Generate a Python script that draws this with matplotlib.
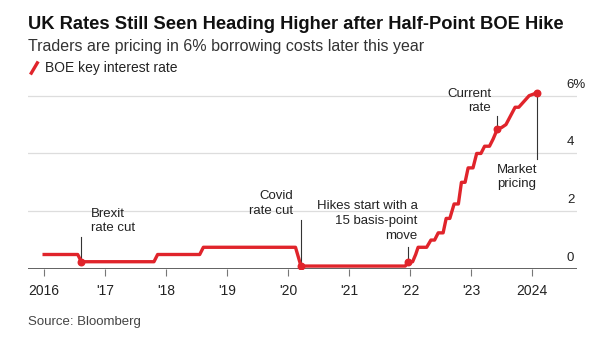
import matplotlib
matplotlib.use("Agg")
from matplotlib import pyplot as plt

plt.rcParams['font.family'] = ['Liberation Sans', 'DejaVu Sans']

# BOE key rate, breakpoints in decimal years (history + market pricing)
years = [2016.0, 2016.55, 2016.61, 2017.80, 2017.86, 2018.55, 2018.61,
         2020.12, 2020.21, 2021.92, 2021.97, 2022.04, 2022.09, 2022.13,
         2022.17, 2022.27, 2022.34, 2022.40, 2022.46, 2022.54, 2022.59,
         2022.65, 2022.72, 2022.79, 2022.84, 2022.90, 2022.95, 2023.03,
         2023.09, 2023.16, 2023.22, 2023.30, 2023.36, 2023.43,
         2023.50, 2023.57, 2023.72, 2023.78, 2023.95, 2024.08]
rates = [0.5, 0.5, 0.25, 0.25, 0.5, 0.5, 0.75,
         0.75, 0.1, 0.1, 0.25, 0.25, 0.5, 0.75,
         0.75, 0.75, 1.0, 1.0, 1.25, 1.25, 1.75,
         1.75, 2.25, 2.25, 3.0, 3.0, 3.5, 3.5,
         4.0, 4.0, 4.25, 4.25, 4.5, 4.85,
         4.9, 5.0, 5.6, 5.6, 6.0, 6.1]

# annotated points
events_x = [2016.61, 2020.21, 2021.97, 2023.43, 2024.08]
events_y = [0.25, 0.1, 0.25, 4.85, 6.1]

tick_years = [2016, 2017, 2018, 2019, 2020, 2021, 2022, 2023, 2024]
tick_labels = ['2016', "'17", "'18", "'19", "'20", "'21", "'22", "'23", '2024']
y_ticks = [0, 2, 4, 6]
y_labels = ['0', '2', '4', '6%']

red = '#e0242b'
grey_txt = '#222222'

fig = plt.figure(figsize=(6.02, 3.40), dpi=100)
ax = fig.add_axes([0.047, 0.209, 0.911, 0.552])

ax.plot(years, rates, color=red, lw=2.4, solid_joinstyle='round', zorder=3)
ax.scatter(events_x, events_y, s=22, color=red, zorder=4)

ax.set_xlim(2015.74, 2024.73)
ax.set_ylim(0, 6.5)

for y in y_ticks[1:]:
    ax.axhline(y, color='#dddddd', lw=0.9, zorder=1)
ax.axhline(0, color='#555555', lw=1.3, zorder=2)

for s in ax.spines.values():
    s.set_visible(False)
ax.set_yticks([])
ax.set_xticks(tick_years)
ax.set_xticklabels(tick_labels, fontsize=10, color=grey_txt)
ax.tick_params(axis='x', length=5, width=0.8, color='#777777', pad=6)

# right-side value labels sitting above the gridlines
for y, lab in zip(y_ticks, y_labels):
    ax.text(0.982, y + 0.38, lab, transform=ax.get_yaxis_transform(),
            ha='left', va='center', fontsize=9.5, color=grey_txt)

# annotations
lc = '#333333'
fs = 9.5
ls = 1.28
ax.plot([2016.61, 2016.61], [0.25, 1.1], color=lc, lw=0.8, zorder=2)
ax.text(2016.76, 1.2, 'Brexit\nrate cut', ha='left', va='bottom', fontsize=fs,
        color=grey_txt, linespacing=ls)

ax.plot([2020.21, 2020.21], [0.1, 1.7], color=lc, lw=0.8, zorder=2)
ax.text(2020.08, 1.8, 'Covid\nrate cut', ha='right', va='bottom', fontsize=fs,
        color=grey_txt, linespacing=ls)

ax.plot([2021.97, 2021.97], [0.25, 0.75], color=lc, lw=0.8, zorder=2)
ax.text(2022.12, 0.95, 'Hikes start with a\n15 basis-point\nmove', ha='right',
        va='bottom', fontsize=fs, color=grey_txt, linespacing=ls)

ax.plot([2023.43, 2023.43], [4.85, 5.3], color=lc, lw=0.8, zorder=2)
ax.text(2023.33, 5.35, 'Current\nrate', ha='right', va='bottom', fontsize=fs,
        color=grey_txt, linespacing=ls)

ax.plot([2024.08, 2024.08], [6.1, 3.8], color=lc, lw=0.8, zorder=2)
ax.text(2023.42, 3.65, 'Market\npricing', ha='left', va='top', fontsize=fs,
        color=grey_txt, linespacing=ls)

# titles, legend, source
fig.text(0.047, 0.915, 'UK Rates Still Seen Heading Higher after Half-Point BOE Hike',
         fontsize=13.2, fontweight='bold', color='#111111', va='baseline')
fig.text(0.047, 0.85, 'Traders are pricing in 6% borrowing costs later this year',
         fontsize=11.5, color='#333333', va='baseline')
fig.lines.append(plt.Line2D([0.052, 0.062], [0.785, 0.815], color=red, lw=2.4,
                            transform=fig.transFigure))
fig.text(0.074, 0.789, 'BOE key interest rate', fontsize=10, color=grey_txt,
         va='baseline')
fig.text(0.047, 0.045, 'Source: Bloomberg', fontsize=9.5, color='#444444',
         va='baseline')

fig.savefig('out.png', dpi=100)
